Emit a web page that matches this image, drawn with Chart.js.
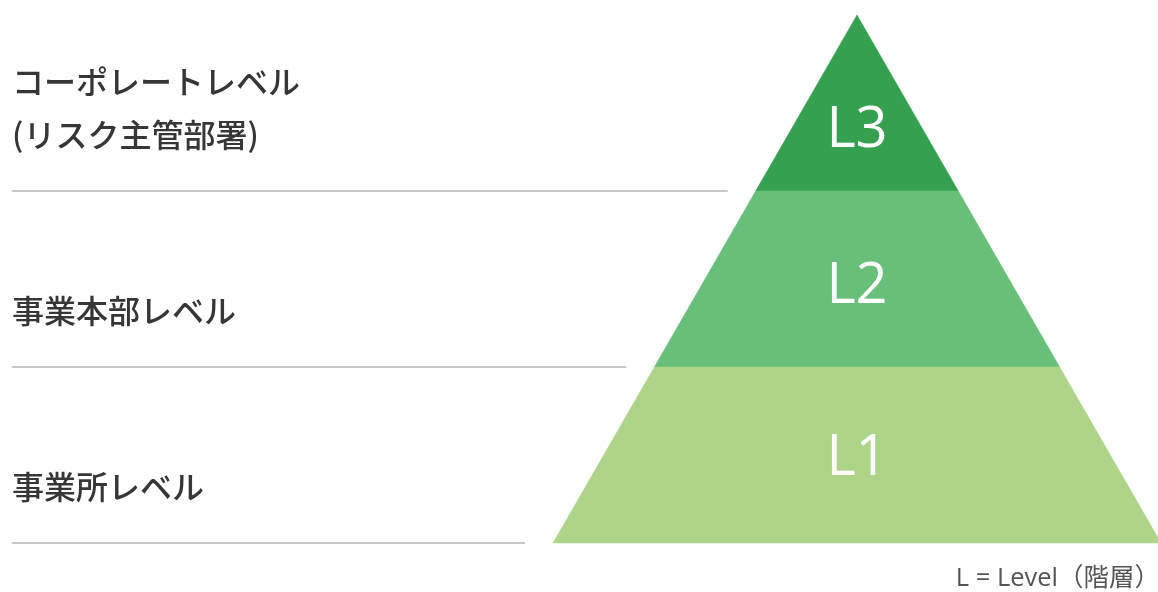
<!DOCTYPE html>
<html>
<head>
<meta charset="utf-8">
<script src="https://cdn.jsdelivr.net/npm/chart.js@4/dist/chart.umd.min.js"></script>
<style>
html,body{margin:0;padding:0;background:#fff;}
#wrap{position:relative;width:1158px;height:592px;}
</style>
</head>
<body>
<div id="wrap"><canvas id="c"></canvas></div>
<script>
// ---- data ----
const levels = ["L1", "L2", "L3"];
const levelBounds = [0, 1, 2, 3];          // bottom of each level, last = apex
const leftLabels = [["事業所レベル"], ["事業本部レベル"], ["コーポレートレベル", "(リスク主管部署)"]];
const layerColors = ["#aed48a", "#67bf79", "#35a050"];
const footnote = "L = Level（階層）";

// ---- geometry helpers (data units: half base width = 1, level height = 1) ----
const apex = levelBounds[levelBounds.length - 1];
const halfW = y => (apex - y) / apex;
const lineGap = 0.092;     // gap between rule end and pyramid edge
const lineStart = -2.78;

const datasets = [];
levels.forEach((lv, i) => {
  const y0 = levelBounds[i], y1 = levelBounds[i + 1];
  datasets.push({
    label: lv,
    data: [{x: -halfW(y0), y: y0}, {x: halfW(y0), y: y0}, {x: halfW(y1), y: y1}, {x: -halfW(y1), y: y1}, {x: -halfW(y0), y: y0}],
    showLine: true, fill: 'shape', backgroundColor: layerColors[i],
    borderColor: layerColors[i], borderWidth: 0.5, pointRadius: 0, tension: 0
  });
});
levels.forEach((lv, i) => {
  const y = levelBounds[i];
  datasets.push({
    label: 'rule' + i,
    data: [{x: lineStart, y: y}, {x: -halfW(y) - lineGap, y: y}],
    showLine: true, fill: false, borderColor: '#b5b5b5', borderWidth: 1.6, pointRadius: 0
  });
});

const textPlugin = {
  id: 'texts',
  afterDatasetsDraw(chart) {
    const ctx = chart.ctx, xs = chart.scales.x, ys = chart.scales.y;
    ctx.save();
    ctx.textBaseline = 'middle';
    levels.forEach((lv, i) => {
      const y0 = levelBounds[i], y1 = levelBounds[i + 1];
      const b = halfW(y0), a = halfW(y1), h = y1 - y0;
      const cy = y0 + h * (b + 2 * a) / (3 * (a + b)) + 0.01;
      ctx.fillStyle = '#ffffff';
      ctx.font = '500 56px "Open Sans", "Noto Sans", sans-serif';
      ctx.textAlign = 'center';
      ctx.fillText(lv, xs.getPixelForValue(0), ys.getPixelForValue(cy));
      // left labels
      ctx.fillStyle = '#363636';
      ctx.font = '500 32px "Noto Sans CJK JP", sans-serif';
      ctx.textAlign = 'left';
      const lines = leftLabels[i];
      const baseY = ys.getPixelForValue(y0 + 0.32);
      lines.forEach((t, k) => {
        ctx.fillText(t, 12, baseY - (lines.length - 1 - k) * 53);
      });
    });
    ctx.fillStyle = '#555555';
    ctx.font = '25.5px "Open Sans", "Noto Sans CJK JP", sans-serif';
    ctx.textAlign = 'right';
    ctx.textBaseline = 'alphabetic';
    ctx.fillText(footnote, 1160, 586);
    ctx.restore();
  }
};

new Chart(document.getElementById('c'), {
  type: 'scatter',
  data: {datasets},
  options: {
    responsive: true, maintainAspectRatio: false, animation: false,
    layout: {padding: 0},
    plugins: {legend: {display: false}, tooltip: {enabled: false}},
    scales: {
      x: {type: 'linear', display: false, min: -857 / 304, max: 301 / 304},
      y: {type: 'linear', display: false, min: -49 / 176, max: 3 + 15 / 176}
    }
  },
  plugins: [textPlugin]
});
</script>
</body>
</html>
